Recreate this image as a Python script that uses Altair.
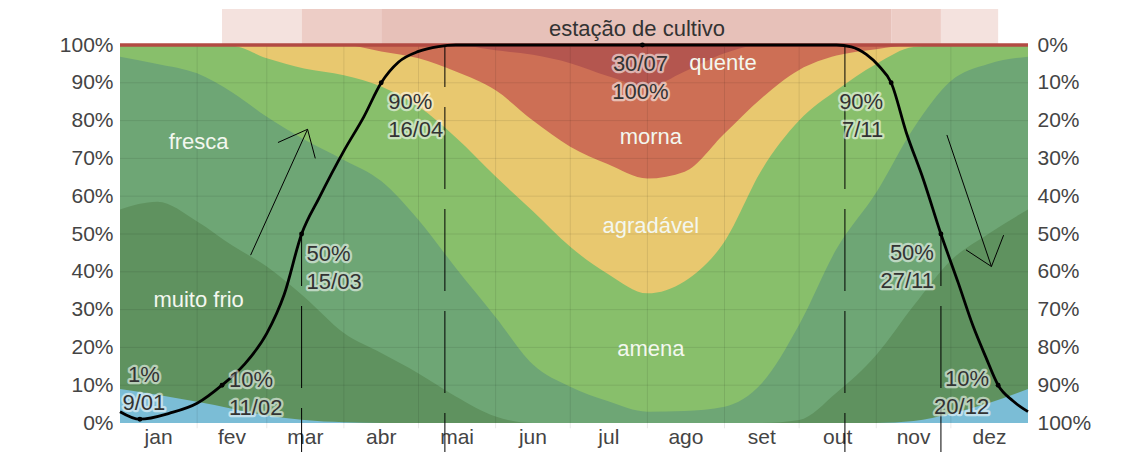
import altair as alt
import pandas as pd

# ---------------- data ----------------
# day of year (0 = 1 Jan) at which band boundaries were read
days = [0, 15, 31, 45, 59, 74, 90, 105, 120, 135, 151, 166, 181, 196, 212, 227, 243,
        258, 273, 288, 304, 319, 334, 349, 365]

# cumulative upper boundary (%) of each temperature band
top_congelante = [9.0, 7.5, 5.6, 3.8, 2.0, 0.8, 0.2, 0, 0, 0, 0, 0, 0, 0, 0, 0, 0,
                  0, 0, 0, 0, 0.5, 2.5, 5.2, 9.0]
top_muito_frio = [56.5, 58.5, 53.3, 47.0, 41.4, 33.4, 23.8, 18.5, 13.1, 7.0, 1.7, 0, 0, 0, 0, 0, 0,
                  0, 0.8, 8.0, 18.0, 31.0, 43.0, 50.0, 56.5]
top_fresca = [96.9, 95.0, 92.5, 87.5, 81.0, 75.0, 69.6, 64.0, 53.7, 41.0, 28.0, 15.5, 9.6, 5.8, 3.0, 3.2, 4.3,
              10.5, 26.0, 46.0, 61.0, 78.0, 90.5, 95.0, 96.9]
top_amena = [100, 100, 100, 99.8, 96.5, 93.8, 92.0, 89.0, 83.7, 75.5, 65.2, 56.0, 46.6, 39.5, 34.3, 37.5, 48.0,
             67.0, 80.0, 88.0, 95.0, 99.5, 100, 100, 100]
top_agradavel = [100, 100, 100, 100, 100, 100, 100, 98.3, 96.5, 93.0, 88.0, 80.0, 73.1, 68.5, 64.7, 66.5, 76.6,
                 86.0, 93.4, 97.2, 98.9, 100, 100, 100, 100]
top_morna = [100, 100, 100, 100, 100, 100, 100, 100, 100, 100, 98.6, 97.4, 95.2, 91.8, 89.0, 93.0, 97.8,
             100, 100, 100, 100, 100, 100, 100, 100]
top_quente = [100] * 25

band_names = ["quente", "morna", "agradável", "amena", "fresca", "muito frio", "congelante"]
band_tops = [top_quente, top_morna, top_agradavel, top_amena, top_fresca, top_muito_frio, top_congelante]
band_colors = ["#b4564f", "#cd6f55", "#e8c86f", "#88bf6b", "#6ea675", "#5f925f", "#7bbdd6"]

# growing season curve (%)
line_days = [0, 8, 20, 31, 41, 50, 59, 66, 73, 80, 90, 98, 105, 112, 120, 128, 135, 210,
             288, 294, 300, 305, 310, 316, 323, 330, 337, 343, 348, 353, 359, 365]
line_pct = [3.0, 1.0, 2.6, 5.2, 10.0, 15.5, 23.7, 34.0, 50.0, 59.5, 72.0, 81.0, 90.0, 95.5, 98.3, 99.6, 100, 100,
            100, 99.5, 97.5, 94.5, 90.0, 77.0, 64.3, 50.0, 37.0, 25.5, 17.5, 10.0, 5.8, 3.0]

# annotated points
ann_day = [8, 41, 73, 105, 210, 310, 330, 353]
ann_pct = [1, 10, 50, 90, 100, 90, 50, 10]
ann_text = ["1%\n9/01", "10%\n11/02", "50%\n15/03", "90%\n16/04", "30/07\n100%",
            "90%\n7/11", "50%\n27/11", "10%\n20/12"]
ann_align = ["center", "left", "left", "left", "center", "right", "right", "right"]
ann_dx = [4, 7, 5, 7, -2, -8, -7, -9]
ann_dy = [-54, -15, 10, 9.5, 9, 9.5, 9, -16]

# growing season band
season_start = [41, 73, 105, 310, 330]
season_end = [73, 105, 310, 330, 353]
season_level = ["10-50%", "50-90%", ">90%", "50-90%", "10-50%"]
season_title = "estação de cultivo"

# band labels
cat_label = ["fresca", "muito frio", "amena", "agradável", "morna", "quente"]
cat_day = [31.6, 31.6, 213.4, 213.4, 213.4, 242.4]
cat_pct = [74.3, 32.5, 19.6, 52.1, 75.7, 95.2]

# hand-drawn marks
dash_full_days = [130.6, 291.4]
dash_half_days = [73, 330]
arrow_x1 = [52.5, 75.4, 75.4, 332.4, 350.3, 350.3]
arrow_y1 = [44.4, 77.7, 77.7, 76.2, 41.4, 41.4]
arrow_x2 = [75.4, 63.5, 78.5, 350.3, 340.1, 355.2]
arrow_y2 = [77.7, 74.2, 70.0, 41.4, 45.8, 49.7]

month_names = ["jan", "fev", "mar", "abr", "mai", "jun", "jul", "ago", "set", "out", "nov", "dez"]
month_starts = [31, 59, 90, 120, 151, 181, 212, 243, 273, 304, 334]
month_mids = [15.5, 45, 74.5, 105, 135.5, 166, 196.5, 227.5, 258, 288.5, 319, 349.5]
pct_ticks = [0, 10, 20, 30, 40, 50, 60, 70, 80, 90, 100]

# ---------------- chart ----------------
FONT = "Liberation Sans"
W, H = 908, 378


def xs():
    return alt.Scale(domain=[0, 365], nice=False, zero=False)


def ys():
    return alt.Scale(domain=[0, 100], nice=False, zero=False)


y_axis = alt.Axis(values=pct_ticks, labelExpr="datum.value + '%'", ticks=False, domain=False, grid=False,
                  labelPadding=7, labelFontSize=21, labelColor="#444", labelFont=FONT, labelFlush=False,
                  orient="left")


def XQ(field):
    return alt.X(field, type="quantitative", scale=xs(), axis=None, title=None)


def YQ(field):
    return alt.Y(field, type="quantitative", scale=ys(), axis=None, title=None)


layers = []
for i, (name, vals, col) in enumerate(zip(band_names, band_tops, band_colors)):
    df = pd.DataFrame({"day": days, "pct": vals})
    layers.append(
        alt.Chart(df).mark_area(color=col, interpolate="monotone", opacity=1).encode(
            x=XQ("day"),
            y=alt.Y("pct:Q", scale=ys(), axis=y_axis if i == 0 else None, title=None),
        )
    )

# grid lines
layers.append(
    alt.Chart(pd.DataFrame({"pct": pct_ticks[1:-1]})).mark_rule(color="black", opacity=0.09, strokeWidth=1)
    .encode(y=YQ("pct"))
)
layers.append(
    alt.Chart(pd.DataFrame({"day": month_starts})).mark_rule(color="black", opacity=0.09, strokeWidth=1)
    .encode(x=XQ("day"), y=alt.Y(datum=100, scale=ys(), axis=None), y2=alt.Y2(datum=-1.4))
)

# month labels (x axis)
layers.append(
    alt.Chart(pd.DataFrame({"day": month_mids, "m": month_names}))
    .mark_text(font=FONT, fontSize=21, color="#444", baseline="top", align="center", dy=4)
    .encode(x=XQ("day"), y=alt.Y(datum=0, scale=ys(), axis=None), text="m:N")
)

# growing season band
season_df = pd.DataFrame({"start": season_start, "end": season_end, "level": season_level})
layers.append(
    alt.Chart(season_df).mark_rect().encode(
        x=XQ("start"), x2="end:Q",
        y=alt.Y(datum=100, scale=ys(), axis=None), y2=alt.Y2(datum=109.5),
        color=alt.Color("level:N", scale=alt.Scale(domain=["10-50%", "50-90%", ">90%"],
                                                   range=["#f4e2de", "#edcdc6", "#e7c1b9"]), legend=None),
    )
)
layers.append(
    alt.Chart(pd.DataFrame({"day": [207.8], "pct": [104.2], "t": [season_title]}))
    .mark_text(font=FONT, fontSize=22, color="#333", baseline="middle", align="center")
    .encode(x=XQ("day"), y=YQ("pct"), text="t:N")
)

# top red edge
layers.append(
    alt.Chart(pd.DataFrame({"a": [0]})).mark_rule(color="#b24a43", strokeWidth=3.5)
    .encode(y=alt.Y(datum=100, scale=ys(), axis=None))
)

# dashed vertical marks
layers.append(
    alt.Chart(pd.DataFrame({"day": dash_full_days})).mark_rule(color="black", strokeWidth=1,
                                                               strokeDash=[82, 20], strokeDashOffset=40)
    .encode(x=XQ("day"), y=alt.Y(datum=100, scale=ys(), axis=None), y2=alt.Y2(datum=-7.7))
)
layers.append(
    alt.Chart(pd.DataFrame({"day": dash_half_days})).mark_rule(color="black", strokeWidth=1,
                                                               strokeDash=[82, 20], strokeDashOffset=30)
    .encode(x=XQ("day"), y=alt.Y(datum=50, scale=ys(), axis=None), y2=alt.Y2(datum=-7.7))
)

# arrows
arrow_df = pd.DataFrame({"x1": arrow_x1, "y1": arrow_y1, "x2": arrow_x2, "y2": arrow_y2})
layers.append(
    alt.Chart(arrow_df).mark_rule(color="black", strokeWidth=1).encode(
        x=XQ("x1"), x2="x2:Q", y=YQ("y1"), y2="y2:Q")
)

# growing season line and points
layers.append(
    alt.Chart(pd.DataFrame({"day": line_days, "pct": line_pct}))
    .mark_line(color="black", strokeWidth=2.8, interpolate="monotone")
    .encode(x=XQ("day"), y=YQ("pct"))
)
ann_df = pd.DataFrame({"day": ann_day, "pct": ann_pct, "t": ann_text})
layers.append(
    alt.Chart(ann_df).mark_circle(color="black", size=24, opacity=1)
    .encode(x=XQ("day"), y=YQ("pct"))
)

# category labels
layers.append(
    alt.Chart(pd.DataFrame({"day": cat_day, "pct": cat_pct, "t": cat_label}))
    .mark_text(font=FONT, fontSize=22, color="#f3f7ef", baseline="middle", align="center")
    .encode(x=XQ("day"), y=YQ("pct"), text="t:N")
)

# annotation labels (halo + text)
for i in range(len(ann_day)):
    one = ann_df.iloc[[i]]
    common = dict(font=FONT, fontSize=22, align=ann_align[i], baseline="top", lineBreak="\n",
                  lineHeight=28, dx=ann_dx[i], dy=ann_dy[i])
    layers.append(alt.Chart(one).mark_text(fill="white", stroke="white", strokeWidth=4.5,
                                           strokeJoin="round", opacity=0.55, **common)
                  .encode(x=XQ("day"), y=YQ("pct"), text="t:N"))
    layers.append(alt.Chart(one).mark_text(fill="#333333", **common)
                  .encode(x=XQ("day"), y=YQ("pct"), text="t:N"))

# right-hand reversed axis
layers.append(
    alt.Chart(pd.DataFrame({"v": [0]})).mark_point(opacity=0).encode(
        y=alt.Y("v:Q", scale=alt.Scale(domain=[0, 100], reverse=True, nice=False, zero=False), title=None,
                axis=alt.Axis(orient="right", values=pct_ticks, labelExpr="datum.value + '%'", ticks=False,
                              domain=False, grid=False, labelPadding=9, labelFontSize=21, labelColor="#444",
                              labelFont=FONT, labelFlush=False))
    )
)

chart = alt.layer(*layers).resolve_scale(y="independent").properties(
    width=W, height=H,
    autosize=alt.AutoSizeParams(type="none"),
    padding={"left": 112, "top": 37, "right": 98, "bottom": 29},
).configure_view(strokeWidth=0)

chart.save("out.html", embed_options={"renderer": "svg", "actions": False})
